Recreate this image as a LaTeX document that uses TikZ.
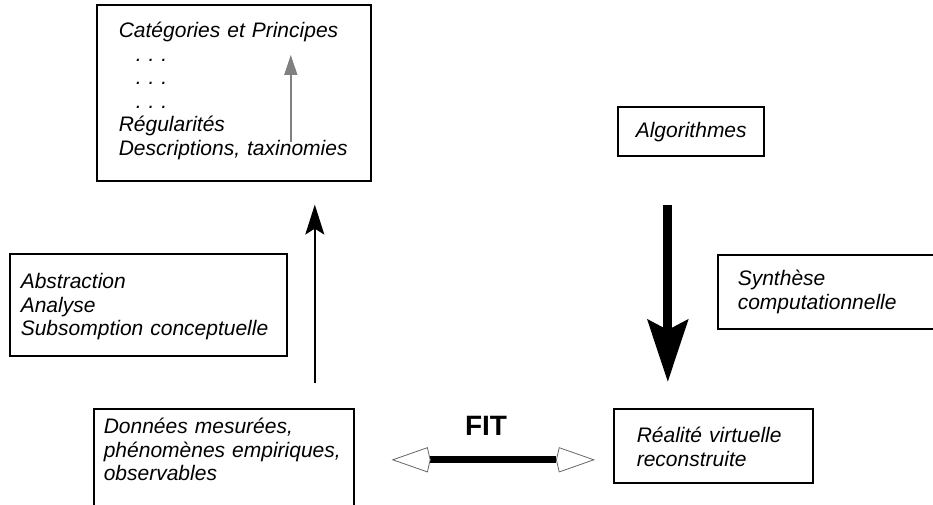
\documentclass[tikz,border=0pt]{standalone}
\usepackage{fontspec}
\setmainfont{Liberation Sans}
\usetikzlibrary{arrows.meta}

\tikzset{
  box/.style={draw=black, line width=1.6pt, rectangle, anchor=north west,
    inner ysep=0pt, align=left,
    font=\fontsize{21}{23.5}\selectfont\itshape},
  thinarrow/.style={line width=1.6pt, -{Stealth[length=30pt, width=19pt, inset=6pt]}},
  greyarrow/.style={draw=black!50, line width=1.6pt,
    -{Triangle[length=20pt, width=13pt]}},
  thickarrow/.style={line width=9pt, -{Stealth[length=62pt, width=40pt, inset=10pt]}},
  fitarrow/.style={line width=7pt,
    {Stealth[length=36pt, width=25pt, inset=-3pt, line width=0.8pt, color=black!60, fill=white]}-%
    {Stealth[length=36pt, width=25pt, inset=-3pt, line width=0.8pt, color=black!60, fill=white]}},
}

\begin{document}
\begin{tikzpicture}[x=1pt, y=-1pt]
  \useasboundingbox[fill=white] (0,0) rectangle (933,505);

  % boxes (corner, width, height, first baseline)
  \node[box, minimum width=274pt, minimum height=176pt, inner xsep=22pt,
        text width=230pt, text height=33pt, text depth=143pt] (top) at (96,4)
    {Catégories et Principes\\
     \hspace*{17pt}.\ .\ .\\
     \hspace*{17pt}.\ .\ .\\
     \hspace*{17pt}.\ .\ .\\
     Régularités\\
     Descriptions, taxinomies};

  \node[box, minimum width=146pt, minimum height=49pt, inner xsep=18pt,
        text width=110pt, text height=31pt, text depth=18pt] (algo) at (617,106)
    {Algorithmes};

  \node[box, minimum width=277pt, minimum height=102pt, inner xsep=11pt,
        text width=255pt, text height=35pt, text depth=67pt] (abstr) at (9,253)
    {Abstraction\\ Analyse\\ Subsomption conceptuelle};

  \node[box, minimum width=260pt, minimum height=74pt, inner xsep=20pt,
        text width=220pt, text height=31pt, text depth=43pt] (synth) at (717,254)
    {Synthèse\\ computationnelle};

  \node[box, minimum width=260pt, minimum height=120pt, inner xsep=10pt,
        text width=240pt, text height=25pt, text depth=95pt] (donnees) at (93,408)
    {Données mesurées,\\ phénomènes empiriques,\\ observables};

  \node[box, minimum width=199pt, minimum height=74pt, inner xsep=23pt,
        text width=153pt, text height=34pt, text depth=40pt] (realite) at (613,408)
    {Réalité virtuelle\\ reconstruite};

  % connectors
  \draw[thinarrow] ([shift={(91pt,25pt)}]donnees.north)
                -- ([shift={(81pt,-23pt)}]top.south);
  \draw[greyarrow] ([shift={(57pt,40pt)}]top.south)
                -- ([shift={(57pt,-51pt)}]top.north);
  \draw[thickarrow] ([shift={(-23pt,-48pt)}]algo.south)
                 -- ([shift={(-45.5pt,26pt)}]realite.north);
  \draw[fitarrow] ([shift={(37pt,9pt)}]donnees.east)
               -- ([shift={(-18pt,-14pt)}]realite.west);

  \node[anchor=base, font=\fontsize{28}{30}\selectfont\bfseries] (fit) at (486,435) {FIT};
\end{tikzpicture}
\end{document}
